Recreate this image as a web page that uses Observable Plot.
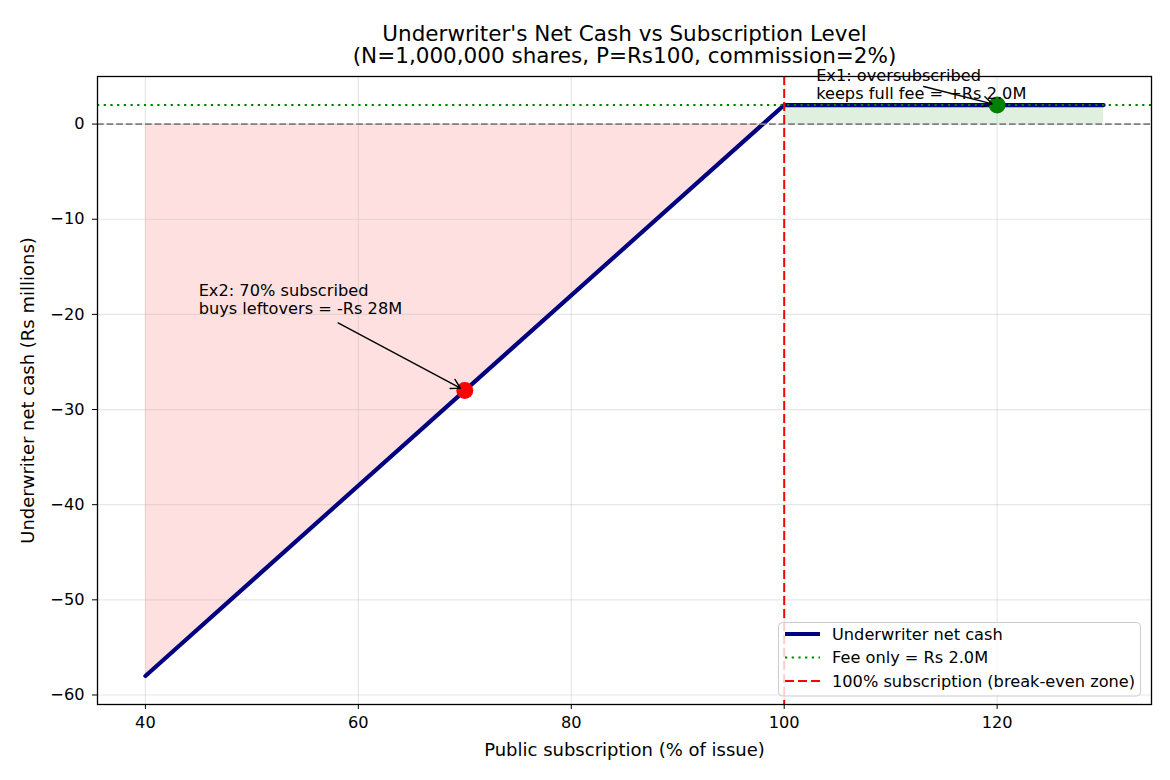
<!DOCTYPE html>
<html><head><meta charset="utf-8">
<script src="https://cdn.jsdelivr.net/npm/d3@7"></script>
<script src="https://cdn.jsdelivr.net/npm/@observablehq/plot@0.6"></script>
<style>body{margin:0;background:white;} #chart{width:1170px;height:780px;}</style>
</head><body><div id="chart"></div>
<script>
// ---- data ----
const lineX = [40, 100, 130];          // subscription %
const lineY = [-58, 2, 2];             // underwriter net cash (Rs M)
const lossX = [40, 98];
const lossY = [-58, 0];
const gainX = [100, 130];
const gainY = [2, 2];
const feeLevel = 2;
const breakEven = 100;
const xTicks = [40, 60, 80, 100, 120];
const yTicks = [0, -10, -20, -30, -40, -50, -60];
const pointX = [70, 120];
const pointY = [-28, 2];
const pointColor = ["red", "green"];
const noteText = ["Ex2: 70% subscribed\nbuys leftovers = -Rs 28M", "Ex1: oversubscribed\nkeeps full fee = +Rs 2.0M"];
const noteX = [45, 103];
const noteY = [-20, 2.6];
const arrowFromX = [58.1, 113.1];
const arrowFromY = [-20.9, 3.95];
const titleLines = ["Underwriter's Net Cash vs Subscription Level", "(N=1,000,000 shares, P=Rs100, commission=2%)"];
const xLabel = "Public subscription (% of issue)";
const yLabel = "Underwriter net cash (Rs millions)";
const legendLabels = ["Underwriter net cash", "Fee only = Rs 2.0M", "100% subscription (break-even zone)"];

const lineData = lineX.map((x, i) => ({x, y: lineY[i]}));
const lossData = lossX.map((x, i) => ({x, y: lossY[i]}));
const gainData = gainX.map((x, i) => ({x, y: gainY[i]}));
const points = pointX.map((x, i) => ({x, y: pointY[i], c: pointColor[i]}));
const notes = noteText.map((t, i) => ({t, x: noteX[i], y: noteY[i], x1: arrowFromX[i], y1: arrowFromY[i], x2: pointX[i], y2: pointY[i]}));

const FONT = "DejaVu Sans";
const svg = Plot.plot({
  width: 1170, height: 780,
  marginLeft: 97, marginRight: 19, marginTop: 76, marginBottom: 76,
  style: {fontFamily: FONT, fontSize: "16.2px", background: "white", color: "black", overflow: "visible"},
  x: {domain: [35.5, 134.5]},
  y: {domain: [-61, 5]},
  color: {type: "identity"},
  marks: [
    Plot.areaY(lossData, {x: "x", y1: 0, y2: "y", fill: "#ffe0e0"}),
    Plot.areaY(gainData, {x: "x", y1: 0, y2: "y", fill: "#e0f0e0"}),
    Plot.gridX(xTicks, {stroke: "#b0b0b0", strokeOpacity: 0.3, strokeWidth: 1.2}),
    Plot.gridY(yTicks, {stroke: "#b0b0b0", strokeOpacity: 0.3, strokeWidth: 1.2}),
    Plot.line(lineData, {x: "x", y: "y", stroke: "#000080", strokeWidth: 4.2}),
    Plot.ruleY([0], {stroke: "gray", strokeWidth: 1.6, strokeDasharray: "6.7,2.9"}),
    Plot.ruleY([feeLevel], {stroke: "green", strokeWidth: 2, strokeDasharray: "2.2,4.5"}),
    Plot.ruleX([breakEven], {stroke: "red", strokeWidth: 2, strokeDasharray: "9,4"}),
    Plot.dot(points, {x: "x", y: "y", fill: "c", r: 8.5}),
    Plot.arrow(notes, {x1: "x1", y1: "y1", x2: "x2", y2: "y2", stroke: "black", strokeWidth: 1.4, headLength: 11, insetEnd: 5}),
    Plot.text(notes, {x: "x", y: "y", text: "t", textAnchor: "start", lineAnchor: "bottom", lineHeight: 1.07, dy: -0.8, fontSize: 16.2, fill: "black"}),
    Plot.axisX(xTicks, {anchor: "bottom", tickSize: 5, tickPadding: 7, fontSize: 16.2, label: null}),
    Plot.axisY(yTicks, {anchor: "left", tickSize: 5, tickPadding: 8, fontSize: 16.2, label: null}),
    Plot.frame({stroke: "black", strokeWidth: 1.3}),
    Plot.text([titleLines[0]], {text: d => d, frameAnchor: "top", dy: -42.5, lineAnchor: "middle", fontSize: 21.5}),
    Plot.text([titleLines[1]], {text: d => d, frameAnchor: "top", dy: -20, lineAnchor: "middle", fontSize: 21.5}),
    Plot.text([xLabel], {text: d => d, frameAnchor: "bottom", dy: 46, lineAnchor: "middle", fontSize: 18}),
    Plot.text([yLabel], {text: d => d, frameAnchor: "left", textAnchor: "middle", dx: -69, rotate: -90, lineAnchor: "middle", fontSize: 18})
  ]
});

// legend (inside the plot, lower right)
const s = d3.select(svg);
const lg = s.append("g").attr("font-family", FONT).attr("font-size", "16.2px").attr("text-anchor", "start");
lg.append("rect").attr("x", 778.5).attr("y", 622.5).attr("width", 362).attr("height", 73.5).attr("rx", 4)
  .attr("fill", "white").attr("fill-opacity", 0.8).attr("stroke", "#cccccc");
const styles = [
  {stroke: "#000080", w: 4.2, dash: null},
  {stroke: "green", w: 2, dash: "2.2,4.5"},
  {stroke: "red", w: 2, dash: "9,4"}
];
const rowY = [634, 657.5, 681];
legendLabels.forEach((lab, i) => {
  lg.append("line").attr("x1", 785).attr("x2", 820).attr("y1", rowY[i]).attr("y2", rowY[i])
    .attr("stroke", styles[i].stroke).attr("stroke-width", styles[i].w).attr("stroke-dasharray", styles[i].dash);
  lg.append("text").attr("x", 832).attr("y", rowY[i]).attr("dy", "0.35em").attr("text-anchor", "start").attr("fill", "black").text(lab);
});

document.getElementById("chart").appendChild(svg);
</script>
</body></html>
